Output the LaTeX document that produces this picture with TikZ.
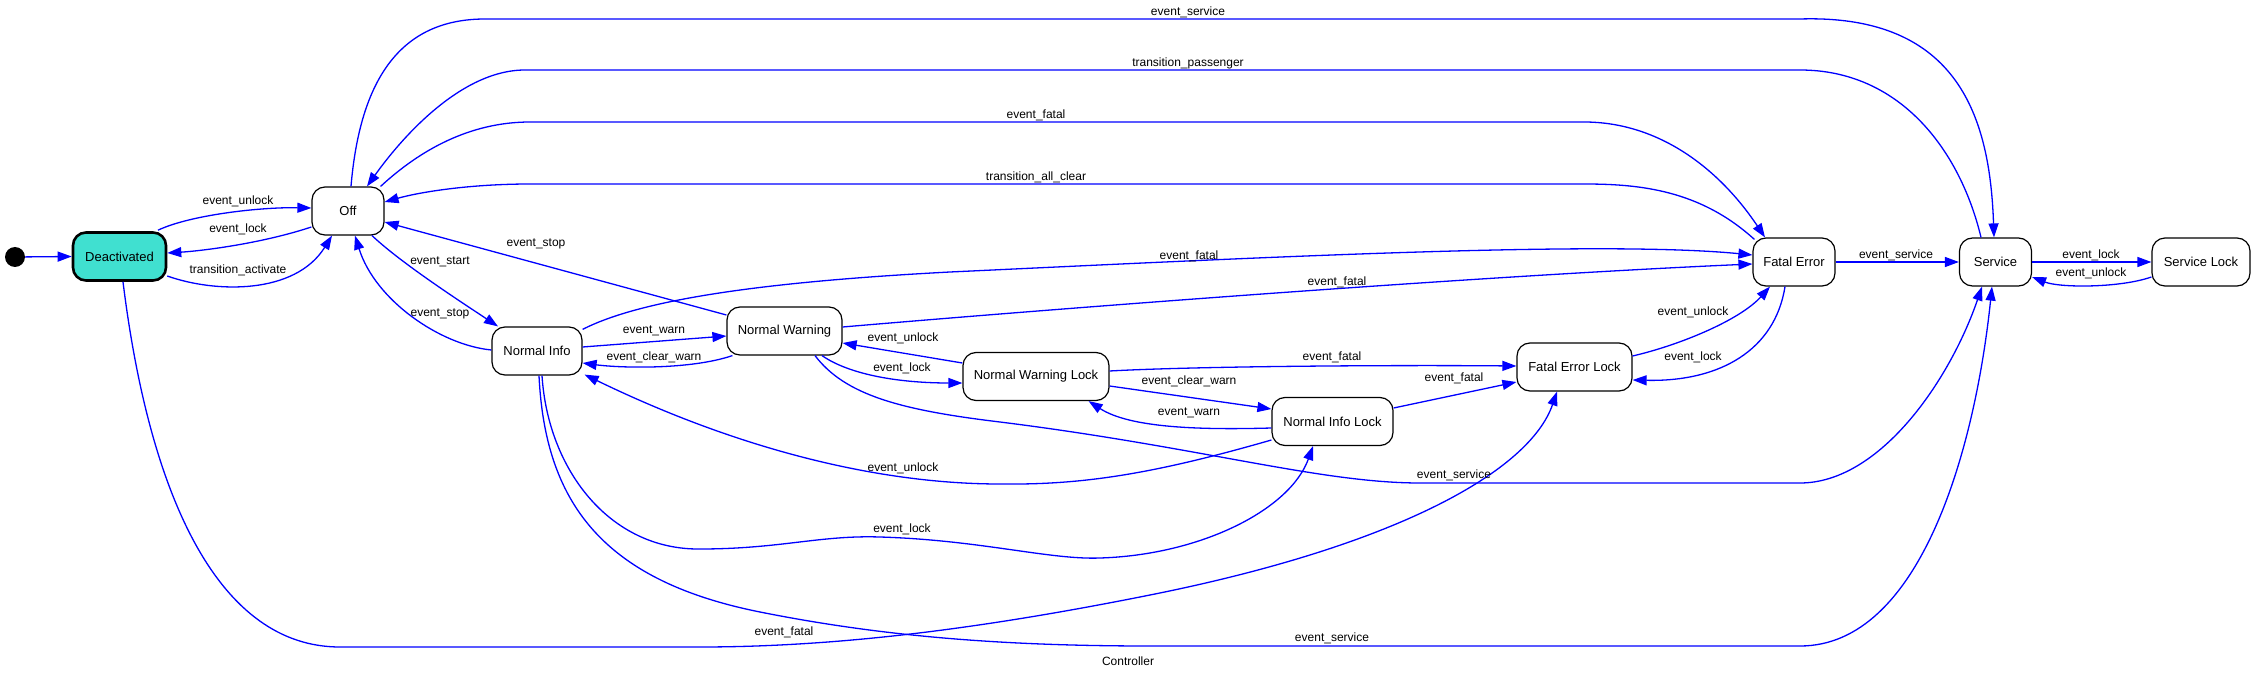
\documentclass[tikz,border=0pt]{standalone}
\usepackage{fontspec}
\setmainfont{Liberation Sans}
\usetikzlibrary{arrows.meta,calc}
\begin{document}
\begin{tikzpicture}[x=1pt,y=-1pt,
  st/.style={draw=black, line width=1.2pt, rounded corners=13pt, minimum height=48pt, inner sep=0pt, fill=white, font=\fontsize{13}{15}\selectfont},
  tr/.style={draw=blue, line width=1.3pt, -{Triangle[length=14pt,width=10pt]}},
  lb/.style={font=\fontsize{12}{14}\selectfont, inner sep=0pt, text=black},
]
\useasboundingbox[fill=white] (0,0) rectangle (2255,679);
% states
\node[circle, fill=black, minimum size=20pt, inner sep=0pt] (init) at (15,257) {};
\node[st, minimum width=93pt, line width=2.6pt, fill={rgb,255:red,64;green,224;blue,208}] (deact) at (119.5,256.5) {Deactivated};
\node[st, minimum width=72pt] (off) at (348,211) {Off};
\node[st, minimum width=90pt] (ni) at (537,351) {Normal Info};
\node[st, minimum width=115pt] (nw) at (784.5,331) {Normal Warning};
\node[st, minimum width=146pt] (nwl) at (1036,376.5) {Normal Warning Lock};
\node[st, minimum width=121pt] (nil) at (1332.5,421.5) {Normal Info Lock};
\node[st, minimum width=115pt] (fel) at (1574.5,367) {Fatal Error Lock};
\node[st, minimum width=82pt] (fe) at (1794,262) {Fatal Error};
\node[st, minimum width=72pt] (svc) at (1995.5,262) {Service};
\node[st, minimum width=98pt] (svl) at (2201,262) {Service Lock};
% transitions
\draw[tr] (init) -- (deact.west);
\draw[tr] ($(deact.north)+(38.5,-1)$) .. controls (190,215) and (260,207) .. ($(off.west)+(0,-3)$);
\draw[tr] ($(off.west)+(0,16)$) .. controls (260,244) and (200,251) .. ($(deact.east)+(0,-3.5)$);
\draw[tr] ($(deact.east)+(0,19.5)$) .. controls (215,293) and (295,295) .. ($(off.south)+(-16,0)$);
\draw[tr] ($(off.south)+(24,0)$) .. controls (400,262) and (455,298) .. ($(ni.north)+(-39,0)$);
\draw[tr] ($(ni.west)+(0,-1)$) .. controls (440,345) and (375,300) .. ($(off.south)+(7,0)$);
\draw[tr] ($(nw.west)+(0,-16)$) -- ($(off.east)+(0,11)$);
\draw[tr] ($(off.north)+(3,0)$) .. controls (360,80) and (400,19) .. (485,19) -- (1800,19) .. controls (1960,14) and (1990,120) .. ($(svc.north)+(-1.5,0)$);
\draw[tr] ($(svc.north)+(-14.5,0)$) .. controls (1960,150) and (1900,70) .. (1800,70) -- (525,70) .. controls (460,70) and (400,140) .. ($(off.north)+(19,0)$);
\draw[tr] ($(off.north east)+(-4,0)$) .. controls (420,150) and (470,122) .. (530,122) -- (1584,122) .. controls (1660,122) and (1720,170) .. ($(fe.north)+(-29,0)$);
\draw[tr] ($(fe.north west)+(2,2)$) .. controls (1700,190) and (1640,184) .. (1584,184) -- (530,184) .. controls (470,184) and (420,192) .. ($(off.east)+(0,-9)$);
\draw[tr] ($(ni.north east)+(0,3)$) .. controls (640,300) and (760,282) .. (950,272) .. controls (1250,258) and (1600,240) .. ($(fe.west)+(0,-7)$);
\draw[tr] ($(nw.east)+(0,-4)$) .. controls (1100,305) and (1500,275) .. ($(fe.west)+(0,2)$);
\draw[tr] ($(ni.east)+(0,-4)$) -- ($(nw.west)+(0,5)$);
\draw[tr] ($(nw.south west)+(6,0)$) .. controls (690,370) and (620,368) .. ($(ni.east)+(0,12)$);
\draw[tr] ($(nw.south)+(37.5,0)$) .. controls (850,375) and (900,383) .. ($(nwl.west)+(0,6.5)$);
\draw[tr] ($(nwl.west)+(0,-13.5)$) -- ($(nw.east)+(0,12)$);
\draw[tr] ($(nw.south)+(30.5,0)$) .. controls (845,395) and (900,410) .. (1000,422) .. controls (1200,447) and (1320,483) .. (1420,483) -- (1800,483) .. controls (1880,483) and (1950,380) .. ($(svc.south)+(-13.5,0)$);
\draw[tr] ($(nwl.east)+(0,-5.5)$) .. controls (1200,366) and (1400,365) .. ($(fel.west)+(0,-1)$);
\draw[tr] ($(nwl.east)+(0,9.5)$) -- ($(nil.west)+(0,-12.5)$);
\draw[tr] ($(nil.west)+(0,6.5)$) .. controls (1200,430) and (1130,428) .. ($(nwl.south east)+(-21,0)$);
\draw[tr] ($(nil.east)+(0,-13.5)$) -- ($(fel.west)+(0,15)$);
\draw[tr] ($(nil.west)+(0,18.5)$) .. controls (1150,475) and (1080,485) .. (1000,484) .. controls (880,484) and (740,450) .. ($(ni.south east)+(2,-1)$);
\draw[tr] ($(ni.south)+(5,0)$) .. controls (548,470) and (610,550) .. (700,549) .. controls (780,549) and (820,535) .. (880,537) .. controls (980,540) and (1050,560) .. (1100,558) .. controls (1200,555) and (1290,510) .. ($(nil.south)+(-19.5,0)$);
\draw[tr] ($(ni.south)+(2,0)$) .. controls (545,500) and (600,580) .. (760,612) .. controls (880,636) and (1000,646) .. (1150,646) -- (1800,646) .. controls (1920,646) and (1975,450) .. ($(svc.south)+(-3.5,0)$);
\draw[tr] ($(deact.south)+(3.5,0)$) .. controls (150,500) and (220,647) .. (340,647) -- (700,647) .. controls (850,647) and (1000,625) .. (1150,595) .. controls (1400,545) and (1530,470) .. ($(fel.south)+(-17.5,0)$);
\draw[tr] ($(fel.east)+(0,-11)$) .. controls (1680,345) and (1740,320) .. ($(fe.south)+(-24,0)$);
\draw[tr] ($(fe.south)+(-9,0)$) .. controls (1775,350) and (1720,382) .. ($(fel.east)+(0,13)$);
\draw[tr] (fe.east) -- (svc.west);
\draw[tr] (svc.east) -- (svl.west);
\draw[tr] ($(svl.west)+(0,15)$) .. controls (2120,288) and (2060,288) .. ($(svc.east)+(0,15)$);
% labels
\node[lb] (l1) at (1188,12) {event\_service};
\node[lb] (l2) at (1188,63) {transition\_passenger};
\node[lb] (l3) at (1036,115) {event\_fatal};
\node[lb] (l4) at (1036,177) {transition\_all\_clear};
\node[lb] (l5) at (536,244) {event\_stop};
\node[lb] (l6) at (1189,256) {event\_fatal};
\node[lb] (l7) at (1337,282) {event\_fatal};
\node[lb] (l8) at (1896,255) {event\_service};
\node[lb] (l9) at (2091,255) {event\_lock};
\node[lb] (l10) at (2091,273) {event\_unlock};
\node[lb] (l11) at (1693,312) {event\_unlock};
\node[lb] (l12) at (1693,357) {event\_lock};
\node[lb] (l13) at (1332,357) {event\_fatal};
\node[lb] (l14) at (1454,378) {event\_fatal};
\node[lb] (l15) at (1189,381) {event\_clear\_warn};
\node[lb] (l16) at (1189,413) {event\_warn};
\node[lb] (l17) at (903,338) {event\_unlock};
\node[lb] (l18) at (902,368) {event\_lock};
\node[lb] (l19) at (654,331) {event\_warn};
\node[lb] (l20) at (654,357) {event\_clear\_warn};
\node[lb] (l21) at (440,262) {event\_start};
\node[lb] (l22) at (440,314) {event\_stop};
\node[lb] (l23) at (238,201) {event\_unlock};
\node[lb] (l24) at (238,229) {event\_lock};
\node[lb] (l25) at (238,270) {transition\_activate};
\node[lb] (l26) at (903,468) {event\_unlock};
\node[lb] (l27) at (1454,475) {event\_service};
\node[lb] (l28) at (902,529) {event\_lock};
\node[lb] (l29) at (784,632) {event\_fatal};
\node[lb] (l30) at (1332,638) {event\_service};
\node[lb] (cap) at (1128,661) {Controller};
\end{tikzpicture}
\end{document}
